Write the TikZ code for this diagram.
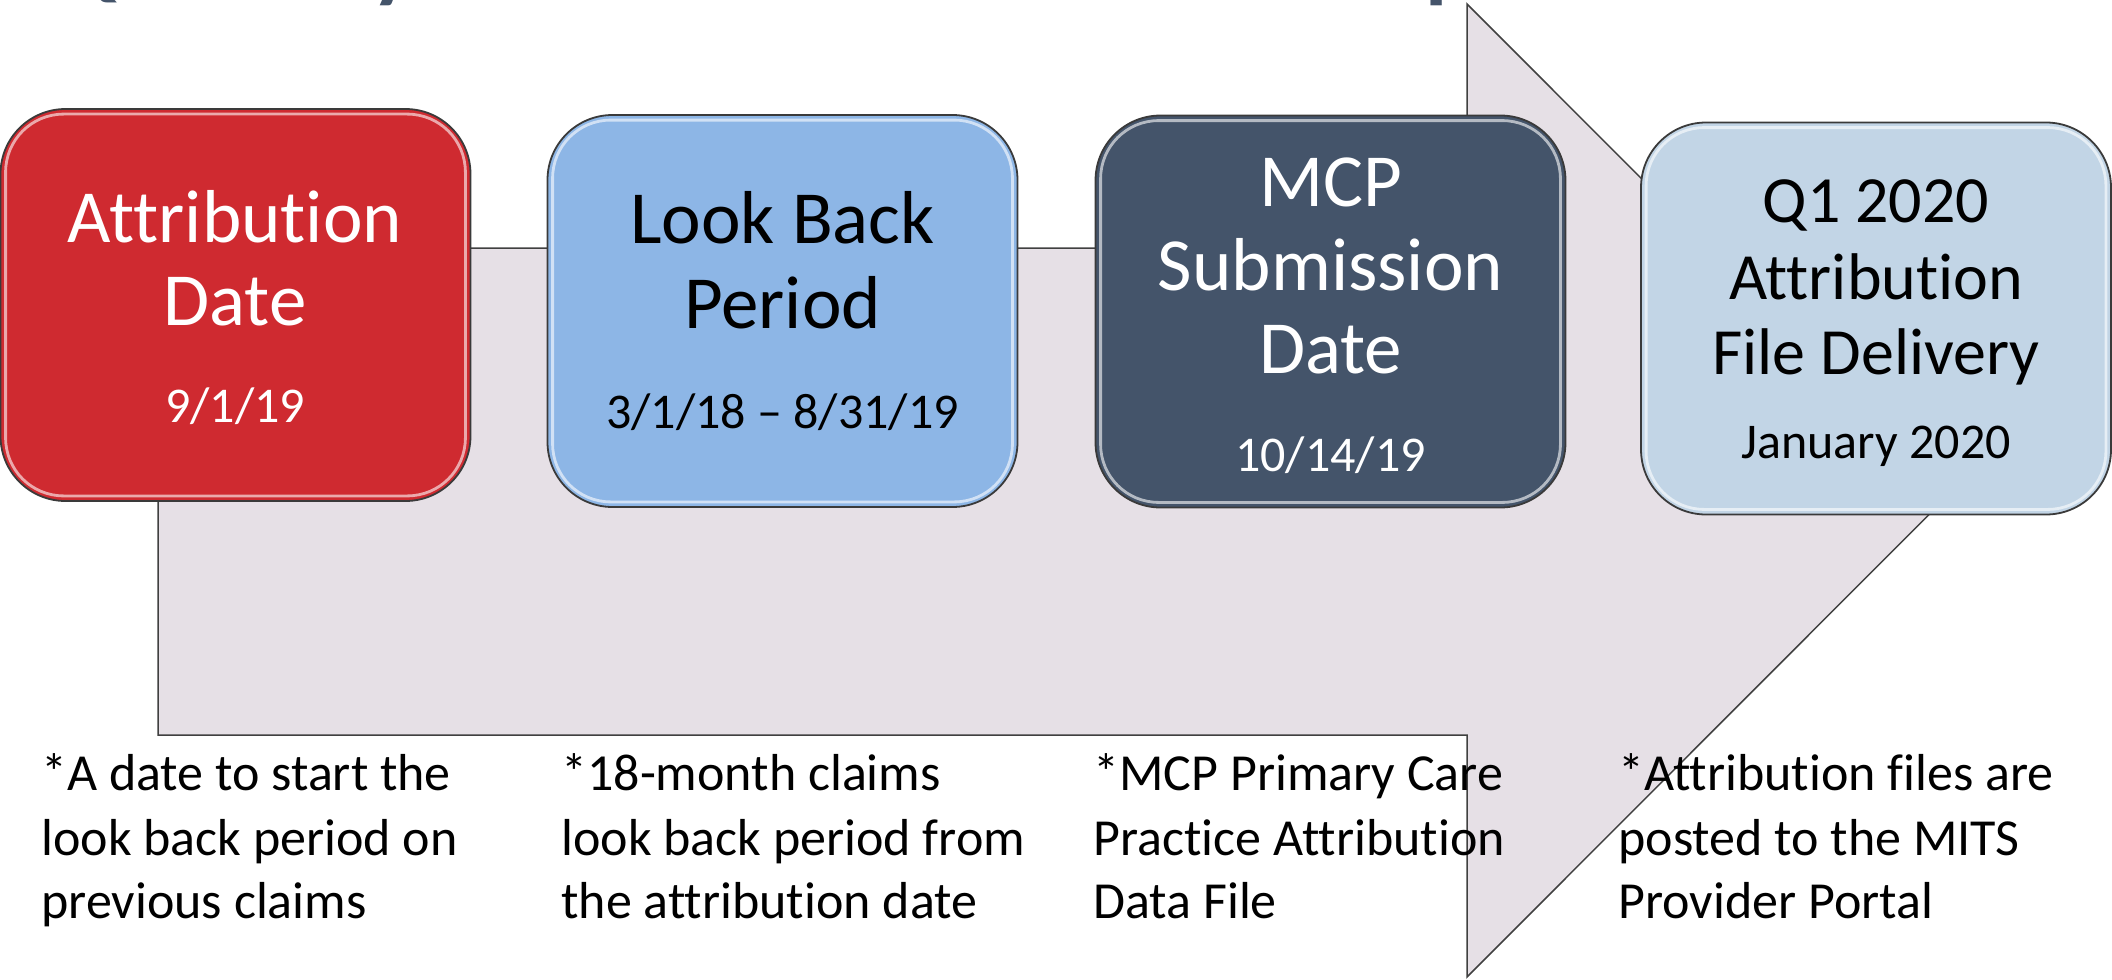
\documentclass[tikz,border=0pt]{standalone}
\usepackage{fontspec}
\setmainfont{Carlito}[Ligatures=NoCommon]
\definecolor{arrowfill}{HTML}{E6E0E6}
\definecolor{arrowline}{HTML}{404040}
\definecolor{stagered}{HTML}{CF2A30}
\definecolor{stageblue}{HTML}{8DB6E6}
\definecolor{stageslate}{HTML}{44546A}
\definecolor{stagepale}{HTML}{C2D5E6}
\definecolor{boxline}{HTML}{3A3A3A}
\definecolor{titleslate}{HTML}{44546A}
\tikzset{
  stagebox/.style={rectangle, rounded corners=32.5pt, draw=boxline, line width=0.9pt,
    inner sep=0pt, minimum width=235pt, minimum height=196pt},
  gloss/.style={draw=white, draw opacity=0.6, line width=1.4pt, rounded corners=29pt},
  headline/.style={anchor=base, inner sep=0pt, font=\fontsize{37.5pt}{41.5pt}\selectfont},
  smallhead/.style={anchor=base, inner sep=0pt, font=\fontsize{33pt}{38pt}\selectfont},
  dateline/.style={anchor=base, inner sep=0pt, font=\fontsize{25pt}{30pt}\selectfont},
  noteline/.style={anchor=base west, inner sep=0pt, font=\fontsize{26pt}{32pt}\selectfont},
  pagetitle/.style={anchor=base west, inner sep=0pt, text=titleslate,
    font=\bfseries\fontsize{45.5pt}{50pt}\selectfont},
  bigarrow/.style={fill=arrowfill, draw=arrowline, line width=0.75pt, line join=miter}
}
\begin{document}
\begin{tikzpicture}[x=0.5pt,y=-0.5pt]
\useasboundingbox (0,0) rectangle (2112,979);

% heading, mostly above the top edge
\begin{scope}
  \clip (0,0) rectangle (2112,979);
  \node[pagetitle] (title) at (52,-8) {Quarterly Attribution Timeline Example};
\end{scope}

% timeline arrow behind the stages
\draw[bigarrow] (158,248) -- (1467,248) -- (1467,4) -- (1953,490.5)
  -- (1467,977) -- (1467,735) -- (158,735) -- cycle;

% stage boxes
\node[stagebox, fill=stagered] (s1) at (235.5,305) {};
\node[stagebox, fill=stageblue] (s2) at (782.5,311) {};
\node[stagebox, fill=stageslate] (s3) at (1330.5,311.5) {};
\node[stagebox, fill=stagepale] (s4) at (1876,318.5) {};
\foreach \s in {s1,s2,s3,s4}
  \draw[gloss] ([shift={(6,6)}]\s.north west) rectangle ([shift={(-6,-6)}]\s.south east);

% stage 1
\node[headline, text=white] (s1a) at (235,242) {Attribution};
\node[headline, text=white] (s1b) at (235,325) {Date};
\node[dateline, text=white] (s1c) at (235,422) {9/1/19};
% stage 2
\node[headline] (s2a) at (782.5,243) {Look Back};
\node[headline] (s2b) at (782.5,328) {Period};
\node[dateline] (s2c) at (782.5,428) {3/1/18 – 8/31/19};
% stage 3
\node[headline, text=white] (s3a) at (1330.5,206) {MCP};
\node[headline, text=white] (s3b) at (1330.5,290) {Submission};
\node[headline, text=white] (s3c) at (1330.5,373) {Date};
\node[dateline, text=white] (s3d) at (1330.5,471) {10/14/19};
% stage 4
\node[smallhead] (s4a) at (1876,222) {Q1 2020};
\node[smallhead] (s4b) at (1876,299) {Attribution};
\node[smallhead] (s4c) at (1876,374) {File Delivery};
\node[dateline] (s4d) at (1876,458) {January 2020};

% notes under the arrow
\node[noteline] (n1a) at (41,790) {*A date to start the};
\node[noteline] (n1b) at (41,855) {look back period on};
\node[noteline] (n1c) at (41,918) {previous claims};

\node[noteline] (n2a) at (561,790) {*18-month claims};
\node[noteline] (n2b) at (561,855) {look back period from};
\node[noteline] (n2c) at (561,918) {the attribution date};

\node[noteline] (n3a) at (1093,790) {*MCP Primary Care};
\node[noteline] (n3b) at (1093,855) {Practice Attribution};
\node[noteline] (n3c) at (1093,918) {Data File};

\node[noteline] (n4a) at (1618,790) {*Attribution files are};
\node[noteline] (n4b) at (1618,855) {posted to the MITS};
\node[noteline] (n4c) at (1618,918) {Provider Portal};
\end{tikzpicture}
\end{document}
